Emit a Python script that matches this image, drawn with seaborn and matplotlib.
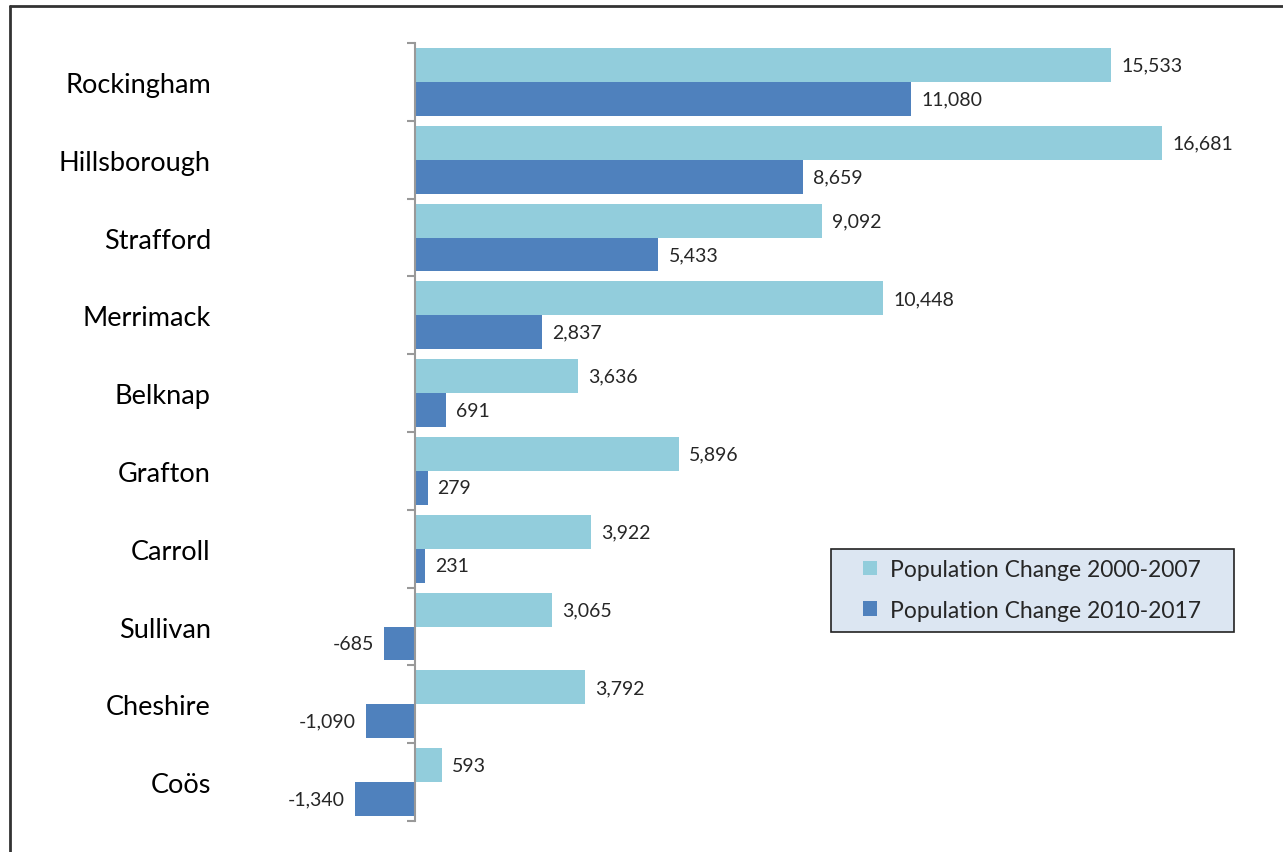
import matplotlib
matplotlib.use("Agg")
import matplotlib.pyplot as plt
import seaborn as sns
import pandas as pd
import numpy as np
from matplotlib.patches import Rectangle
from matplotlib.lines import Line2D

counties = ["Rockingham", "Hillsborough", "Strafford", "Merrimack", "Belknap",
            "Grafton", "Carroll", "Sullivan", "Cheshire", "Coös"]
change_2000_2007 = [15533, 16681, 9092, 10448, 3636, 5896, 3922, 3065, 3792, 593]
change_2010_2017 = [11080, 8659, 5433, 2837, 691, 279, 231, -685, -1090, -1340]
series_names = ["Population Change 2000-2007", "Population Change 2010-2017"]
colors = ["#92CDDC", "#4F81BD"]

df = pd.DataFrame({
    "County": counties * 2,
    "Value": change_2000_2007 + change_2010_2017,
    "Series": [series_names[0]] * len(counties) + [series_names[1]] * len(counties),
})

sns.set_style("white")
plt.rcParams["font.family"] = ["Lato", "DejaVu Sans"]

W, H = 1283, 853
fig = plt.figure(figsize=(W / 100, H / 100), dpi=100)
# axes spans pixels x 300..1250, y 44..822
ax = fig.add_axes([300 / W, (H - 822) / H, 950 / W, 778 / H])

sns.barplot(data=df, y="County", x="Value", hue="Series", order=counties,
            hue_order=series_names, palette=colors, orient="h",
            width=0.87, saturation=1, ax=ax, legend=False, edgecolor="none")

px_per_unit = (1111 - 415) / 15533
ax.set_xlim(-(415 - 300) / px_per_unit, (1250 - 415) / px_per_unit)
ax.set_ylim(len(counties) - 0.5, -0.5)

for s in ["top", "right", "bottom"]:
    ax.spines[s].set_visible(False)
ax.spines["left"].set_position(("data", 0))
ax.spines["left"].set_color("#999999")
ax.spines["left"].set_linewidth(1.5)
ax.set_xticks([])
ax.set_xlabel("")
ax.set_ylabel("")

# category labels far left
ax.set_yticks(range(len(counties)))
ax.set_yticklabels(counties, fontsize=19.5, color="black")
ax.tick_params(axis="y", which="major", left=False, length=0, pad=147)
ax.set_yticks(np.arange(-0.5, len(counties), 1.0), minor=True)
ax.tick_params(axis="y", which="minor", left=True, length=6, width=1.5,
               color="#999999", direction="out")

# value labels
for cont in ax.containers:
    for bar in cont:
        v = bar.get_width()
        y = bar.get_y() + bar.get_height() / 2
        off = 10 / px_per_unit
        if v >= 0:
            ax.text(v + off, y, f"{v:,.0f}", va="center", ha="left", fontsize=14)
        else:
            ax.text(v - off, y, f"{v:,.0f}", va="center", ha="right", fontsize=14)

# legend box
fig.add_artist(Rectangle((831 / W, 1 - 633 / H), (1234 - 831) / W, (633 - 550) / H,
                         transform=fig.transFigure, facecolor="#DCE6F2",
                         edgecolor="#222222", linewidth=1.2, zorder=5))
handles = [Rectangle((0, 0), 1, 1, facecolor=c, edgecolor="none") for c in colors]
leg = fig.legend(handles, series_names, loc="center",
                 bbox_to_anchor=(1032 / W, 1 - 591 / H), fontsize=16.5,
                 frameon=False, handlelength=0.6, handleheight=0.6,
                 handletextpad=0.55, labelspacing=0.85, borderpad=0,
                 borderaxespad=0)
leg.set_zorder(6)

# outer frame (left and top visible)
fig.add_artist(Line2D([9.5 / W, 9.5 / W], [0, 1 - 7 / H], transform=fig.transFigure,
                      color="#333333", linewidth=2))
fig.add_artist(Line2D([9.5 / W, 1], [1 - 7 / H, 1 - 7 / H], transform=fig.transFigure,
                      color="#333333", linewidth=2))

fig.savefig("out.png", dpi=100)
